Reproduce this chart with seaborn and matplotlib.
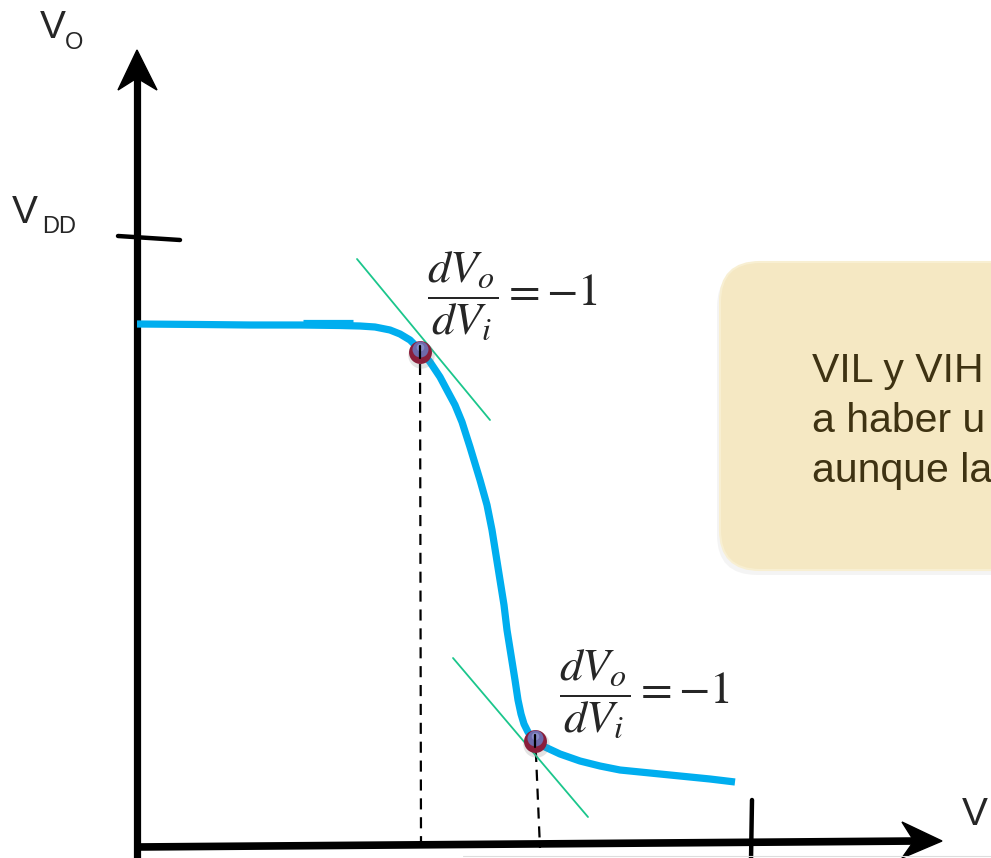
import numpy as np
import matplotlib
matplotlib.use('Agg')
import matplotlib.pyplot as plt
import seaborn as sns
from matplotlib.patches import Polygon, FancyBboxPatch

# coordinates: origin at the axes crossing, 1 unit = 1 pixel
vin = [0, 63, 113, 163, 203, 223, 238, 253, 263, 273, 283, 293, 303, 311,
       318, 325, 333, 343, 350, 355, 359, 363, 367, 370, 374, 378, 381, 384,
       387, 391, 398, 408, 423, 443, 463, 483, 513, 543, 573, 598]
vout = [524, 523.5, 523, 523, 522.5, 522, 521, 518, 514, 508, 498, 486, 471,
        456, 443, 426, 401, 368, 343, 318, 293, 268, 243, 218, 193, 168, 148,
        134, 124, 116, 107, 101, 94, 87, 82, 78, 75, 72, 69, 66]
# small overlapping stroke on the flat part of the curve
overlap_x = [166, 216]
overlap_y = [525.5, 525.5]

# points where dVo/dVi = -1, and their tangents
crit_x = [283, 398]
crit_y = [496, 107]
tan1_x, tan1_y = [220, 353], [589, 428]
tan2_x, tan2_y = [316, 451], [190, 31]
drop_x = [[283, 284], [398, 403]]
drop_y = [[503, 5], [116, 0]]

x_end, y_end = 805, 798
vdd = 610
vi_max = 615

box_lines = ['VIL y VIH', 'a haber u', 'aunque la']

sns.set_theme(style='white')
plt.rcParams['font.family'] = ['Liberation Sans', 'DejaVu Sans']
plt.rcParams['mathtext.fontset'] = 'stix'

fig = plt.figure(figsize=(9.91, 8.58), dpi=100)
ax = fig.add_axes([0, 0, 1, 1])
ax.set_xlim(-137, 854)
ax.set_ylim(-10, 848)
ax.axis('off')

# axes with arrow heads
ax.plot([0, 0], [-12, y_end - 10], color='black', lw=5.2, solid_capstyle='butt')
ax.add_patch(Polygon([[0, y_end], [-19, y_end - 40], [0, y_end - 28], [20, y_end - 40]],
                     closed=True, color='black'))
ax.plot([0, x_end - 25], [1, 7], color='black', lw=5.5, solid_capstyle='butt')
ax.add_patch(Polygon([[x_end, 7], [x_end - 40, 26], [x_end - 28, 7], [x_end - 40, -10]],
                     closed=True, color='black'))
# tick marks
ax.plot([-19, 43], [612, vdd - 2], color='black', lw=3.2)
ax.plot([vi_max, vi_max - 1], [48, -12], color='black', lw=3.2)

# dashed drops
for dx, dy in zip(drop_x, drop_y):
    ax.plot(dx, dy, color='black', lw=1.6, ls=(0, (5, 3.5)), zorder=2)

# transfer curve
sns.lineplot(x=vin, y=vout, ax=ax, sort=False, estimator=None, color='#00AEEF',
             lw=5.2, solid_capstyle='butt', solid_joinstyle='round', zorder=3)
ax.plot(overlap_x, overlap_y, color='#00AEEF', lw=5.2, solid_capstyle='butt', zorder=3)

# tangents
ax.plot(tan1_x, tan1_y, color='#1BC68C', lw=1.3, zorder=4)
ax.plot(tan2_x, tan2_y, color='#1BC68C', lw=1.3, zorder=4)

# points: soft shadow, dark red body, bluish top
ax.plot(np.array(crit_x) + 1, np.array(crit_y) - 3, 'o', ms=19, color='#777777',
        alpha=0.2, mec='none', zorder=4)
ax.plot(crit_x, crit_y, 'o', ms=16.5, color='#8A1E3A', mec='none', zorder=5)
ax.plot(crit_x, np.array(crit_y) + 3.5, 'o', ms=11.5, color='#6A78C0', mec='none',
        alpha=0.85, zorder=5)
ax.plot(crit_x, np.array(crit_y) + 5.5, 'o', ms=5.5, color='#9AA6DA', mec='none',
        alpha=0.6, zorder=5)
for cx, cy in zip(crit_x, crit_y):
    ax.plot([cx, cx], [cy + 6, cy - 6], color='black', lw=1.6, zorder=6)

# labels
ax.text(-97, 810, 'V', fontsize=28, va='baseline', ha='left')
ax.text(-72, 799, 'O', fontsize=17, va='baseline', ha='left')
ax.text(-125, 625, 'V', fontsize=28, va='baseline', ha='left')
ax.text(-95, 615, 'DD', fontsize=17, va='baseline', ha='left')
ax.text(825, 23, 'V', fontsize=28, va='baseline', ha='left')

frac = r'$\dfrac{dV_o}{dV_i} = -1$'
ax.text(290, 552, frac, fontsize=33, ha='left', va='center')
ax.text(422, 154, frac, fontsize=33, ha='left', va='center')

# note box
ax.add_patch(FancyBboxPatch((580, 273), 400, 308, boxstyle='round,pad=0,rounding_size=40',
                            fc='#aaaaaa', ec='none', alpha=0.12, zorder=1))
ax.add_patch(FancyBboxPatch((583, 278), 400, 308, boxstyle='round,pad=0,rounding_size=40',
                            fc='#F5E8C3', ec='#F8EFD2', lw=1.5, zorder=2))
for i, line in enumerate(box_lines):
    ax.text(675, 466 - i * 50, line, fontsize=29.5, color='#3E3212', va='baseline',
            ha='left', zorder=3)

ax.plot([326, 860], [-8, -8], color='#dddddd', lw=0.8)

fig.savefig('out.png', dpi=100)
